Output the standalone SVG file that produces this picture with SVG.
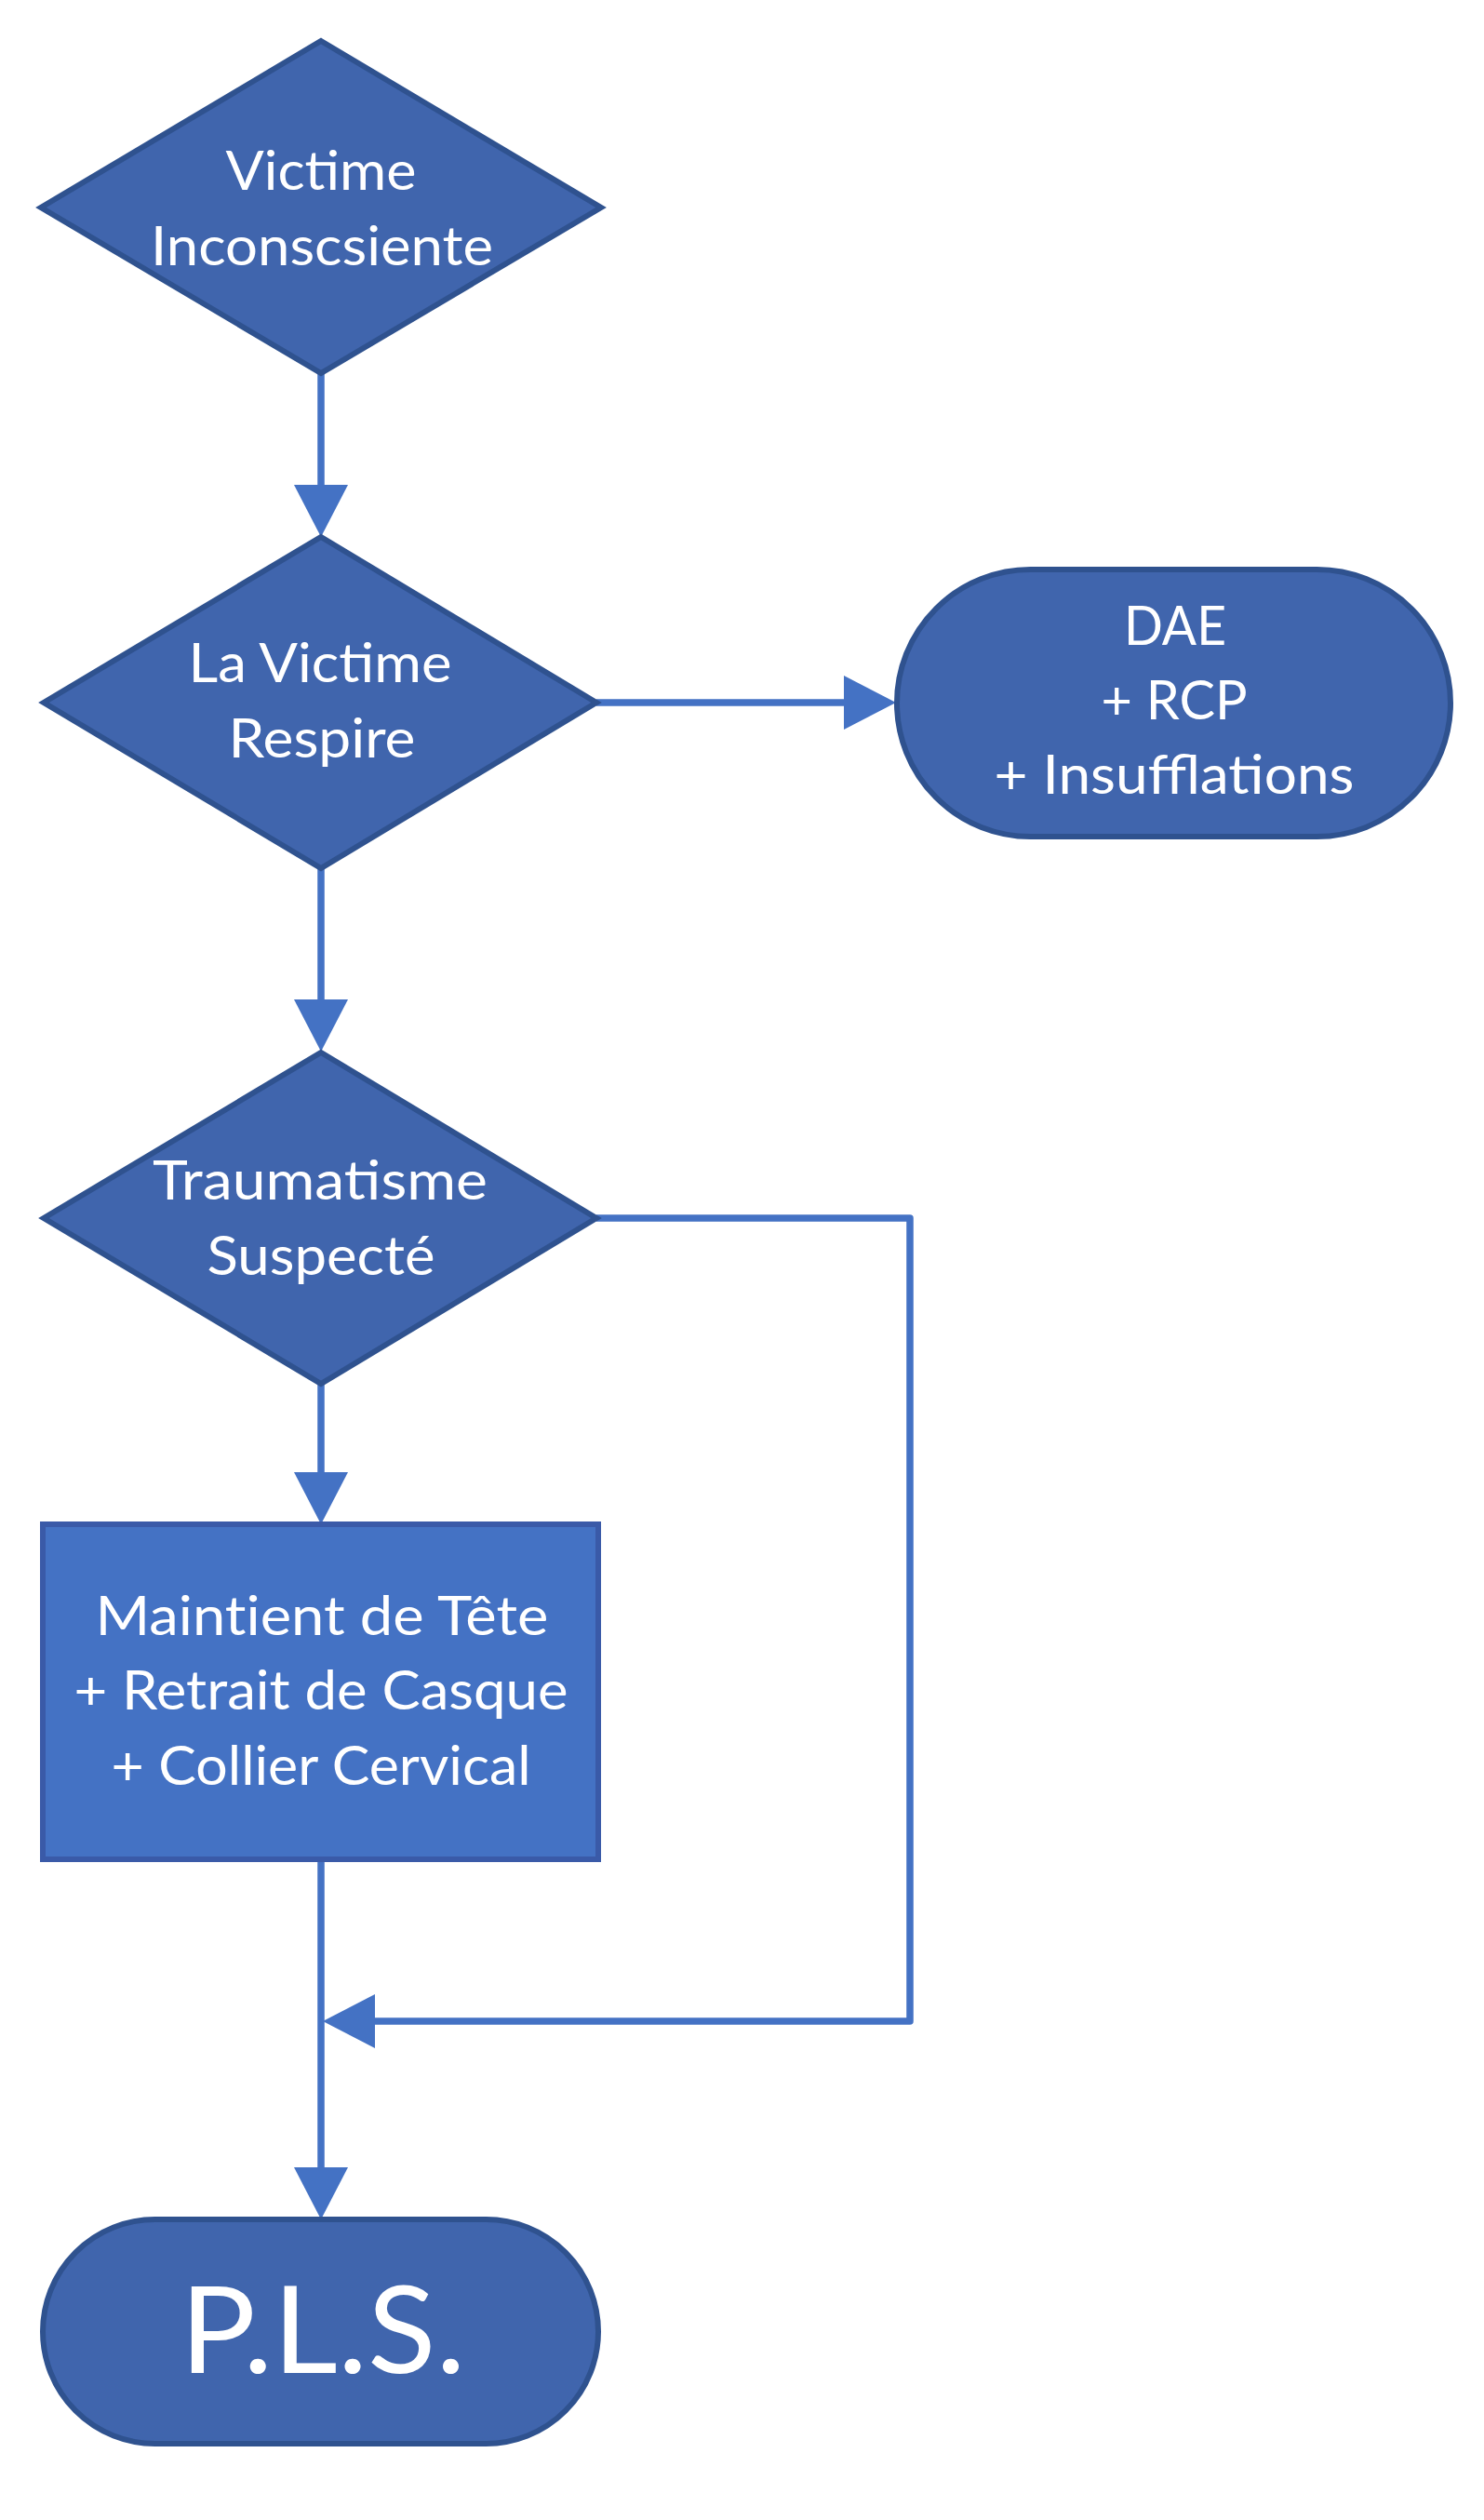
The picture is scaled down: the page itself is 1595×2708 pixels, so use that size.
<svg xmlns="http://www.w3.org/2000/svg" width="1595" height="2708" viewBox="0 0 1595 2708">
<style>
.dec{fill:#4065AD;stroke:#2F528F;stroke-width:6;stroke-linejoin:miter}
.term{fill:#4065AD;stroke:#2F528F;stroke-width:6}
.proc{fill:#4472C4;stroke:#3A5AA8;stroke-width:6}
.con{fill:none;stroke:#4472C4;stroke-width:7.5;stroke-linejoin:round}
.head{fill:#4472C4;stroke:none}
text{font-family:Lato,"Open Sans","Liberation Sans",sans-serif;fill:#FFFFFF;font-size:58px;text-anchor:middle}
.big{font-size:130px}
.nolig{font-variant-ligatures:none;font-feature-settings:"liga" 0}
</style>
<rect width="1595" height="2708" fill="#FFFFFF"/>
<g id="connectors">
  <line class="con" x1="345" y1="401" x2="345" y2="524"/>
  <polygon class="head" points="316,521 374,521 345,577"/>
  <line class="con" x1="641" y1="755" x2="910" y2="755"/>
  <polygon class="head" points="907,726 907,784 963,755"/>
  <line class="con" x1="345" y1="933" x2="345" y2="1077"/>
  <polygon class="head" points="316,1074 374,1074 345,1130"/>
  <polyline class="con" points="641,1309 978,1309 978,2172 400,2172"/>
  <polygon class="head" points="403,2143 403,2201 347,2172"/>
  <line class="con" x1="345" y1="1487" x2="345" y2="1585"/>
  <polygon class="head" points="316,1582 374,1582 345,1638"/>
  <line class="con" x1="345" y1="1998" x2="345" y2="2332"/>
  <polygon class="head" points="316,2329 374,2329 345,2385"/>
</g>
<g id="victime-inconsciente">
  <polygon class="dec" points="345,44 646,223 345,401 44,223"/>
  <text x="345" y="204" textLength="205" lengthAdjust="spacingAndGlyphs">Victime</text>
  <text x="346" y="285" textLength="368" lengthAdjust="spacingAndGlyphs">Inconscsiente</text>
</g>
<g id="la-victime-respire">
  <polygon class="dec" points="345,577 641,755 345,933 47,755"/>
  <text x="344" y="733" textLength="283" lengthAdjust="spacingAndGlyphs">La Victime</text>
  <text x="346" y="814" textLength="201" lengthAdjust="spacingAndGlyphs">Respire</text>
</g>
<g id="dae-rcp">
  <rect class="term" x="964" y="612" width="595" height="287" rx="143.5" ry="143.5"/>
  <text x="1263" y="693" textLength="110" lengthAdjust="spacingAndGlyphs">DAE</text>
  <text x="1262" y="773" textLength="157" lengthAdjust="spacingAndGlyphs">+ RCP</text>
  <text x="1262" y="853" textLength="387" lengthAdjust="spacingAndGlyphs">+ Insufflations</text>
</g>
<g id="traumatisme-suspecte">
  <polygon class="dec" points="345,1131 641,1309 345,1487 47,1309"/>
  <text x="344" y="1289" textLength="360" lengthAdjust="spacingAndGlyphs">Traumatisme</text>
  <text x="345" y="1370" textLength="245" lengthAdjust="spacingAndGlyphs">Suspecté</text>
</g>
<g id="maintien-tete">
  <rect class="proc" x="46" y="1638" width="597" height="360"/>
  <text class="nolig" x="346" y="1757" textLength="487" lengthAdjust="spacingAndGlyphs">Maintient de Tête</text>
  <text x="345" y="1837" textLength="531" lengthAdjust="spacingAndGlyphs">+ Retrait de Casque</text>
  <text x="345" y="1918" textLength="451" lengthAdjust="spacingAndGlyphs">+ Collier Cervical</text>
</g>
<g id="pls">
  <rect class="term" x="46" y="2385" width="597" height="241" rx="120.5" ry="120.5"/>
  <text class="big" x="347" y="2550" textLength="307" lengthAdjust="spacingAndGlyphs">P.L.S.</text>
</g>
</svg>
